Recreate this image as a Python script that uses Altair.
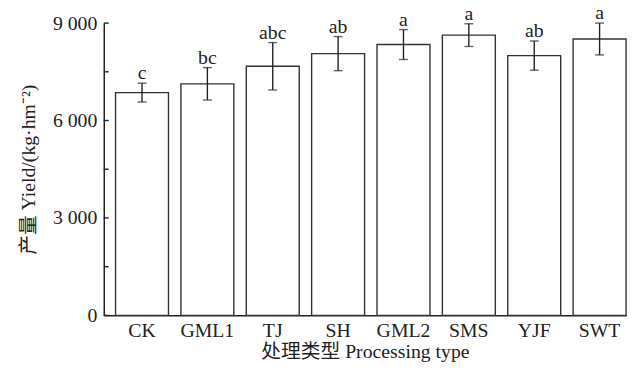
import altair as alt
import pandas as pd

categories = ["CK", "GML1", "TJ", "SH", "GML2", "SMS", "YJF", "SWT"]
yields = [6860, 7130, 7670, 8060, 8340, 8630, 8000, 8510]
errors = [290, 500, 730, 525, 460, 350, 450, 490]
letters = ["c", "bc", "abc", "ab", "a", "a", "ab", "a"]
tick_values = [0, 1500, 3000, 4500, 6000, 7500, 9000]
label_values = [0, 3000, 6000, 9000]

FONT = "'Liberation Serif', 'Noto Sans CJK SC', serif"
INK = "#222222"

df = pd.DataFrame({"cat": categories, "y": yields, "err": errors, "sig": letters})
df["lo"] = df["y"] - df["err"]
df["hi"] = df["y"] + df["err"]
ticks_df = pd.DataFrame({"t": tick_values})

xscale = alt.Scale(domain=categories, paddingInner=0.19, paddingOuter=0.09, align=1)
yscale = alt.Scale(domain=[0, 9000], nice=False, zero=True)

y_axis = alt.Axis(title="产量 Yield/(kg·hm⁻²)", values=label_values, ticks=False,
                  grid=False, labelPadding=7, titlePadding=14,
                  labelExpr="replace(format(datum.value, ','), ',', ' ')")

x_enc = alt.X("cat:N", scale=xscale, sort=categories,
              axis=alt.Axis(title="处理类型 Processing type", labelAngle=0, ticks=False,
                            labelPadding=5, titlePadding=2))

base = alt.Chart(df)

bars = base.mark_bar(fill="white", stroke="#333333", strokeWidth=1.4).encode(
    x=x_enc,
    y=alt.Y("y:Q", scale=yscale, axis=y_axis),
)

err_rule = base.mark_rule(color=INK, strokeWidth=1.4).encode(
    x=alt.X("cat:N", scale=xscale, sort=categories),
    y=alt.Y("lo:Q", scale=yscale, axis=y_axis),
    y2="hi:Q",
)
cap_hi = base.mark_tick(color=INK, size=9, thickness=1.4).encode(
    x=alt.X("cat:N", scale=xscale, sort=categories),
    y=alt.Y("hi:Q", scale=yscale, axis=y_axis),
)
cap_lo = base.mark_tick(color=INK, size=9, thickness=1.4).encode(
    x=alt.X("cat:N", scale=xscale, sort=categories),
    y=alt.Y("lo:Q", scale=yscale, axis=y_axis),
)
sig_text = base.mark_text(font=FONT, fontSize=20, color=INK, baseline="alphabetic", dy=-4).encode(
    x=alt.X("cat:N", scale=xscale, sort=categories),
    y=alt.Y("hi:Q", scale=yscale, axis=y_axis),
    text="sig:N",
)
inner_ticks = alt.Chart(ticks_df).mark_rule(color=INK, strokeWidth=1.4).encode(
    y=alt.Y("t:Q", scale=yscale, axis=y_axis),
    x=alt.value(0),
    x2=alt.value(5),
)

chart = alt.layer(bars, err_rule, cap_hi, cap_lo, sig_text, inner_ticks).properties(
    width=529, height=296,
    autosize=alt.AutoSizeParams(type="none"),
    padding={"left": 97, "top": 13, "right": 5, "bottom": 49},
).configure_view(stroke=None).configure_axis(
    domainColor=INK, domainWidth=1.5, labelFont=FONT, titleFont=FONT,
    labelFontSize=20, titleFontSize=20, labelColor=INK, titleColor=INK,
    titleFontWeight="normal", grid=False,
)

chart.save("out.html", embed_options={"renderer": "svg", "actions": False})
